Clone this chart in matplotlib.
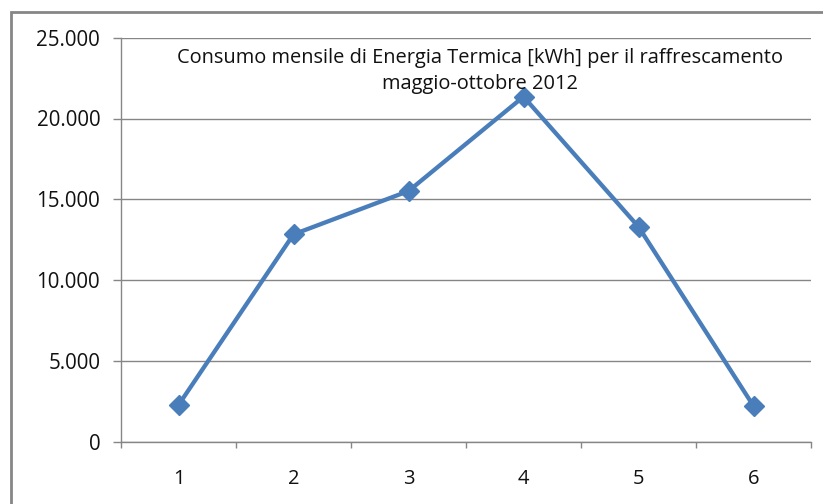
import matplotlib
matplotlib.use("Agg")
import matplotlib.pyplot as plt
from matplotlib.patches import Rectangle
from matplotlib.ticker import FuncFormatter, MultipleLocator

# dati
mesi = [1, 2, 3, 4, 5, 6]
consumo_kwh = [2270, 12830, 15510, 21350, 13300, 2210]
titolo = "Consumo mensile di Energia Termica [kWh] per il raffrescamento\nmaggio-ottobre 2012"

plt.rcParams['font.family'] = ['Open Sans', 'DejaVu Sans']

W, H = 823, 504
fig = plt.figure(figsize=(W / 100, H / 100), dpi=100)
ax = fig.add_axes([121 / W, 1 - 441.7 / H, (811 - 121) / W, (441.7 - 37.7) / H])

grigio = '#868686'
blu = '#4A7EBB'
testo = '#111111'

# posizioni delle categorie (centri tra i tick)
x = list(range(len(mesi)))
ax.plot(x, consumo_kwh, color=blu, lw=3.1, marker='D', ms=10,
        markerfacecolor=blu, markeredgecolor=blu, zorder=3)

ax.set_xlim(-0.5, len(mesi) - 0.5)
ax.set_ylim(0, 25000)
ax.yaxis.set_major_locator(MultipleLocator(5000))
ax.yaxis.set_major_formatter(FuncFormatter(lambda v, p: "{:,.0f}".format(v).replace(",", ".")))

ax.set_xticks([i - 0.5 for i in range(len(mesi) + 1)])
ax.set_xticklabels([])
ax.set_xticks(x, minor=True)
ax.set_xticklabels([str(m) for m in mesi], minor=True)
ax.tick_params(axis='x', which='major', length=4.5, color=grigio, width=1)
ax.tick_params(axis='x', which='minor', length=0, pad=20, labelsize=14.5, labelcolor=testo)
ax.tick_params(axis='y', length=6, color=grigio, width=1, pad=9, labelsize=14.8, labelcolor=testo)

ax.grid(axis='y', color=grigio, lw=1)
ax.set_axisbelow(True)
for s in ['top', 'right']:
    ax.spines[s].set_visible(False)
for s in ['left', 'bottom']:
    ax.spines[s].set_color(grigio)
    ax.spines[s].set_linewidth(1)

ax.text(0.52, 0.975, titolo, transform=ax.transAxes, ha='center', va='top',
        fontsize=14.4, color=testo, linespacing=1.4)

# cornice esterna del grafico
fig.add_artist(Rectangle((11 / W, -0.05), 1.1, 1 - 12 / H + 0.05,
                         transform=fig.transFigure, fill=False,
                         edgecolor=grigio, lw=2, clip_on=False))

fig.savefig("out.png", dpi=100)
